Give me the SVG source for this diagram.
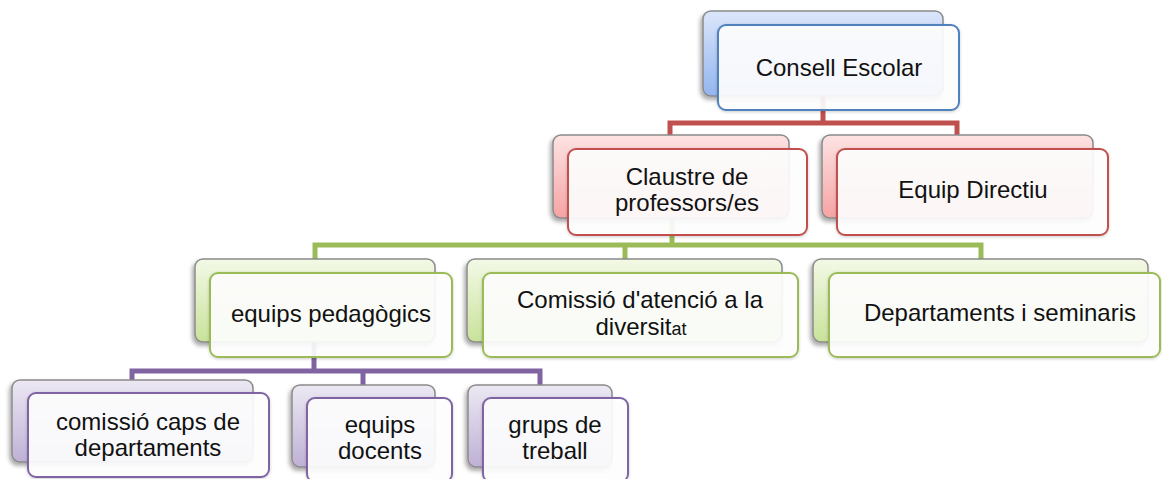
<svg xmlns="http://www.w3.org/2000/svg" width="1162" height="479" viewBox="0 0 1162 479">
<defs>
<linearGradient id="gB" x1="0" y1="0" x2="0" y2="1"><stop offset="0" stop-color="#dbe6fa"/><stop offset="1" stop-color="#93b5ef"/></linearGradient>
<linearGradient id="gR" x1="0" y1="0" x2="0" y2="1"><stop offset="0" stop-color="#fde3e3"/><stop offset="1" stop-color="#f6a3a3"/></linearGradient>
<linearGradient id="gG" x1="0" y1="0" x2="0" y2="1"><stop offset="0" stop-color="#f3f9e6"/><stop offset="1" stop-color="#c9e29a"/></linearGradient>
<linearGradient id="gP" x1="0" y1="0" x2="0" y2="1"><stop offset="0" stop-color="#ece8f3"/><stop offset="1" stop-color="#bfb1d6"/></linearGradient>
<filter id="sh" x="-10%" y="-10%" width="120%" height="130%"><feDropShadow dx="-2" dy="3" stdDeviation="2" flood-color="#000" flood-opacity="0.35"/></filter>
<filter id="sh2" x="-10%" y="-10%" width="120%" height="130%"><feDropShadow dx="0" dy="1" stdDeviation="1.5" flood-color="#000" flood-opacity="0.2"/></filter>
</defs>
<style>
.back{stroke:#8a8a8a;stroke-width:1.5;filter:url(#sh)}
.front{fill:#ffffff;fill-opacity:0.9;stroke-width:2;filter:url(#sh2)}
.t{font-family:"Liberation Sans",Arial,sans-serif;font-size:24px;fill:#111;text-anchor:middle}
.c{fill:none;stroke-width:5;stroke-linejoin:miter}
</style>
<rect width="1162" height="479" fill="#fff"/>
<g id="connectors">
<path class="c" stroke="#c0504d" d="M823,96 V123 M670,138 V123 H957 V138"/>
<path class="c" stroke="#9bbb59" d="M672,218 V245 M315,262 V245 H981 V262 M625,245 V262"/>
<path class="c" stroke="#8064a2" d="M314,342 V371 M132,383 V371 H540 V388 M363,371 V388"/>
</g>
<g id="n1">
<rect class="back" x="703" y="11" width="240" height="85" rx="8" fill="url(#gB)"/>
<rect class="front" x="718" y="25" width="241" height="85" rx="8" stroke="#4f81bd"/>
<text class="t" x="839" y="76">Consell Escolar</text>
</g>
<g id="n2">
<rect class="back" x="553" y="135" width="236" height="83" rx="8" fill="url(#gR)"/>
<rect class="front" x="568" y="149" width="239" height="86" rx="8" stroke="#c0504d"/>
<text class="t" x="687" y="185">Claustre de</text>
<text class="t" x="687" y="211">professors/es</text>
</g>
<g id="n3">
<rect class="back" x="822" y="135" width="271" height="83" rx="8" fill="url(#gR)"/>
<rect class="front" x="837" y="149" width="271" height="86" rx="8" stroke="#c0504d"/>
<text class="t" x="973" y="198">Equip Directiu</text>
</g>
<g id="n4">
<rect class="back" x="195" y="259" width="240" height="83" rx="8" fill="url(#gG)"/>
<rect class="front" x="210" y="273" width="242" height="84" rx="8" stroke="#9bbb59"/>
<text class="t" x="331" y="322">equips pedagògics</text>
</g>
<g id="n5">
<rect class="back" x="467" y="259" width="315" height="83" rx="8" fill="url(#gG)"/>
<rect class="front" x="483" y="273" width="315" height="84" rx="8" stroke="#9bbb59"/>
<text class="t" x="640" y="308">Comissió d'atenció a la</text>
<text class="t" x="641" y="335">diversit<tspan font-size="18">at</tspan></text>
</g>
<g id="n6">
<rect class="back" x="813" y="259" width="335" height="83" rx="8" fill="url(#gG)"/>
<rect class="front" x="829" y="273" width="331" height="84" rx="8" stroke="#9bbb59"/>
<text class="t" x="1000" y="321">Departaments i seminaris</text>
</g>
<g id="n7">
<rect class="back" x="12" y="380" width="241" height="82" rx="8" fill="url(#gP)"/>
<rect class="front" x="28" y="393" width="241" height="84" rx="8" stroke="#8064a2"/>
<text class="t" x="148" y="430">comissió caps de</text>
<text class="t" x="148" y="456">departaments</text>
</g>
<g id="n8">
<rect class="back" x="292" y="385" width="143" height="82" rx="8" fill="url(#gP)"/>
<rect class="front" x="307" y="398" width="145" height="84" rx="8" stroke="#8064a2"/>
<text class="t" x="380" y="433">equips</text>
<text class="t" x="380" y="459">docents</text>
</g>
<g id="n9">
<rect class="back" x="468" y="385" width="144" height="82" rx="8" fill="url(#gP)"/>
<rect class="front" x="483" y="398" width="145" height="84" rx="8" stroke="#8064a2"/>
<text class="t" x="555" y="433">grups de</text>
<text class="t" x="555" y="459">treball</text>
</g>
</svg>
